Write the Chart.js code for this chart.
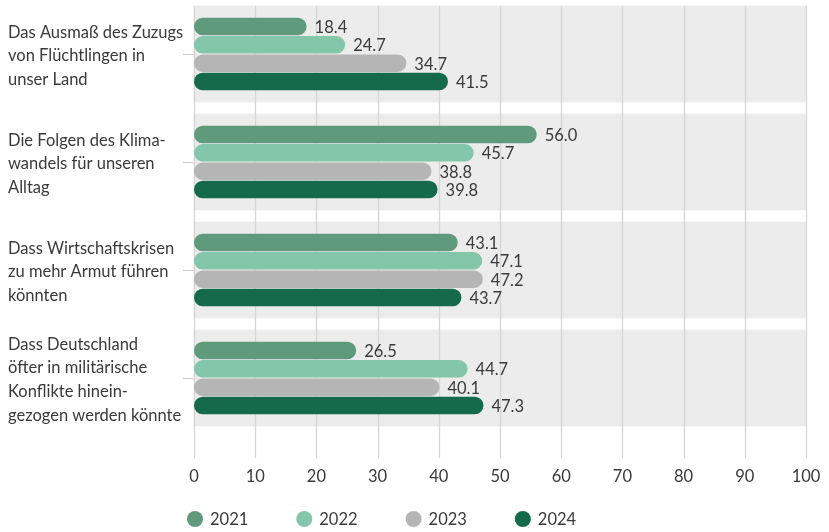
<!DOCTYPE html>
<html>
<head>
<meta charset="utf-8">
<title>Sorgen 2021–2024</title>
<script src="https://cdn.jsdelivr.net/npm/chart.js"></script>
<style>
  html, body { margin: 0; padding: 0; background: #fff; }
  #wrap { width: 829px; height: 532px; position: relative; }
</style>
</head>
<body>
<div id="wrap"><canvas id="chart"></canvas></div>
<script>
const categories = [
  ['Das Ausmaß des Zuzugs', 'von Flüchtlingen in', 'unser Land'],
  ['Die Folgen des Klima-', 'wandels für unseren', 'Alltag'],
  ['Dass Wirtschaftskrisen', 'zu mehr Armut führen', 'könnten'],
  ['Dass Deutschland', 'öfter in militärische', 'Konflikte hinein-', 'gezogen werden könnte']
];
const years = ['2021', '2022', '2023', '2024'];
const values2021 = [18.4, 56.0, 43.1, 26.5];
const values2022 = [24.7, 45.7, 47.1, 44.7];
const values2023 = [34.7, 38.8, 47.2, 40.1];
const values2024 = [41.5, 39.8, 43.7, 47.3];
const xTicks = [0, 10, 20, 30, 40, 50, 60, 70, 80, 90, 100];

const colors = ['#5f9a7c', '#84c6a9', '#b5b5b5', '#146a4b'];
const FONT = 'Lato';
const FONT_SIZE = 16.5;
const TEXT = '#3a3a3a';

// grey band behind each group + vertical grid lines
const bandsPlugin = {
  id: 'bands',
  beforeDatasetsDraw(chart) {
    const { ctx, scales: { x, y } } = chart;
    const step = (y.getPixelForValue(1) - y.getPixelForValue(0));
    const half = step * 0.447;
    ctx.save();
    ctx.fillStyle = '#ececec';
    categories.forEach((c, i) => {
      const cy = y.getPixelForValue(i);
      ctx.fillRect(x.getPixelForValue(0) - 0.5, cy - half, x.getPixelForValue(100) - x.getPixelForValue(0) + 1, half * 2);
    });
    const top = y.getPixelForValue(0) - half;
    const bottom = y.getPixelForValue(categories.length - 1) + half + 32;
    ctx.strokeStyle = '#d6d6d6';
    ctx.lineWidth = 1.3;
    xTicks.forEach(v => {
      const px = Math.round(x.getPixelForValue(v)) + 0.5;
      ctx.beginPath();
      ctx.moveTo(px, top);
      ctx.lineTo(px, bottom);
      ctx.stroke();
    });
    ctx.restore();
  }
};

// value next to the end of each bar
const valueLabels = {
  id: 'valueLabels',
  afterDatasetsDraw(chart) {
    const { ctx } = chart;
    ctx.save();
    ctx.font = FONT_SIZE + 'px ' + FONT;
    ctx.fillStyle = TEXT;
    ctx.textAlign = 'left';
    ctx.textBaseline = 'middle';
    chart.data.datasets.forEach((ds, di) => {
      chart.getDatasetMeta(di).data.forEach((bar, i) => {
        ctx.fillText(ds.data[i].toFixed(1), bar.x + 8, bar.y + 1);
      });
    });
    ctx.restore();
  }
};

// legend row with round markers
const dotLegend = {
  id: 'dotLegend',
  afterDraw(chart) {
    const { ctx } = chart;
    ctx.save();
    ctx.font = FONT_SIZE + 'px ' + FONT;
    ctx.textBaseline = 'middle';
    ctx.textAlign = 'left';
    let xPos = 187;
    const yPos = 519;
    chart.data.datasets.forEach(ds => {
      ctx.fillStyle = ds.backgroundColor;
      ctx.beginPath();
      ctx.arc(xPos + 8, yPos, 8, 0, Math.PI * 2);
      ctx.fill();
      ctx.fillStyle = TEXT;
      ctx.fillText(ds.label, xPos + 23, yPos + 1);
      xPos += 23 + ctx.measureText(ds.label).width + 48;
    });
    ctx.restore();
  }
};

const seriesValues = [values2021, values2022, values2023, values2024];

new Chart(document.getElementById('chart'), {
  type: 'bar',
  data: {
    labels: categories,
    datasets: years.map((yr, i) => ({
      label: yr,
      data: seriesValues[i],
      backgroundColor: colors[i],
      borderRadius: 20,
      borderSkipped: false,
      categoryPercentage: 0.68,
      barPercentage: 0.95
    }))
  },
  options: {
    indexAxis: 'y',
    responsive: true,
    maintainAspectRatio: false,
    animation: false,
    layout: { padding: { left: 8, right: 23, top: 0, bottom: 0 } },
    plugins: {
      legend: { display: false },
      tooltip: { enabled: false }
    },
    scales: {
      x: {
        min: 0,
        max: 100,
        afterBuildTicks(scale) { scale.ticks = xTicks.map(v => ({ value: v })); },
        afterFit(scale) {
          scale.height = 100;
          scale.paddingLeft = 0;
          scale.paddingRight = 0;
        },
        grid: { display: false },
        border: { display: false },
        ticks: {
          padding: 27,
          maxRotation: 0,
          color: TEXT,
          font: { family: FONT, size: FONT_SIZE }
        }
      },
      y: {
        afterFit(scale) {
          scale.width = 186;
          scale.paddingTop = 0;
          scale.paddingBottom = 0;
        },
        grid: {
          offset: false,
          drawOnChartArea: false,
          drawTicks: true,
          tickLength: 11,
          color: '#cccccc'
        },
        border: { display: false },
        ticks: {
          autoSkip: false,
          crossAlign: 'far',
          padding: 4,
          labelOffset: 2,
          color: TEXT,
          font: { family: FONT, size: FONT_SIZE, lineHeight: 1.44 }
        }
      }
    }
  },
  plugins: [bandsPlugin, valueLabels, dotLegend]
});
</script>
</body>
</html>
